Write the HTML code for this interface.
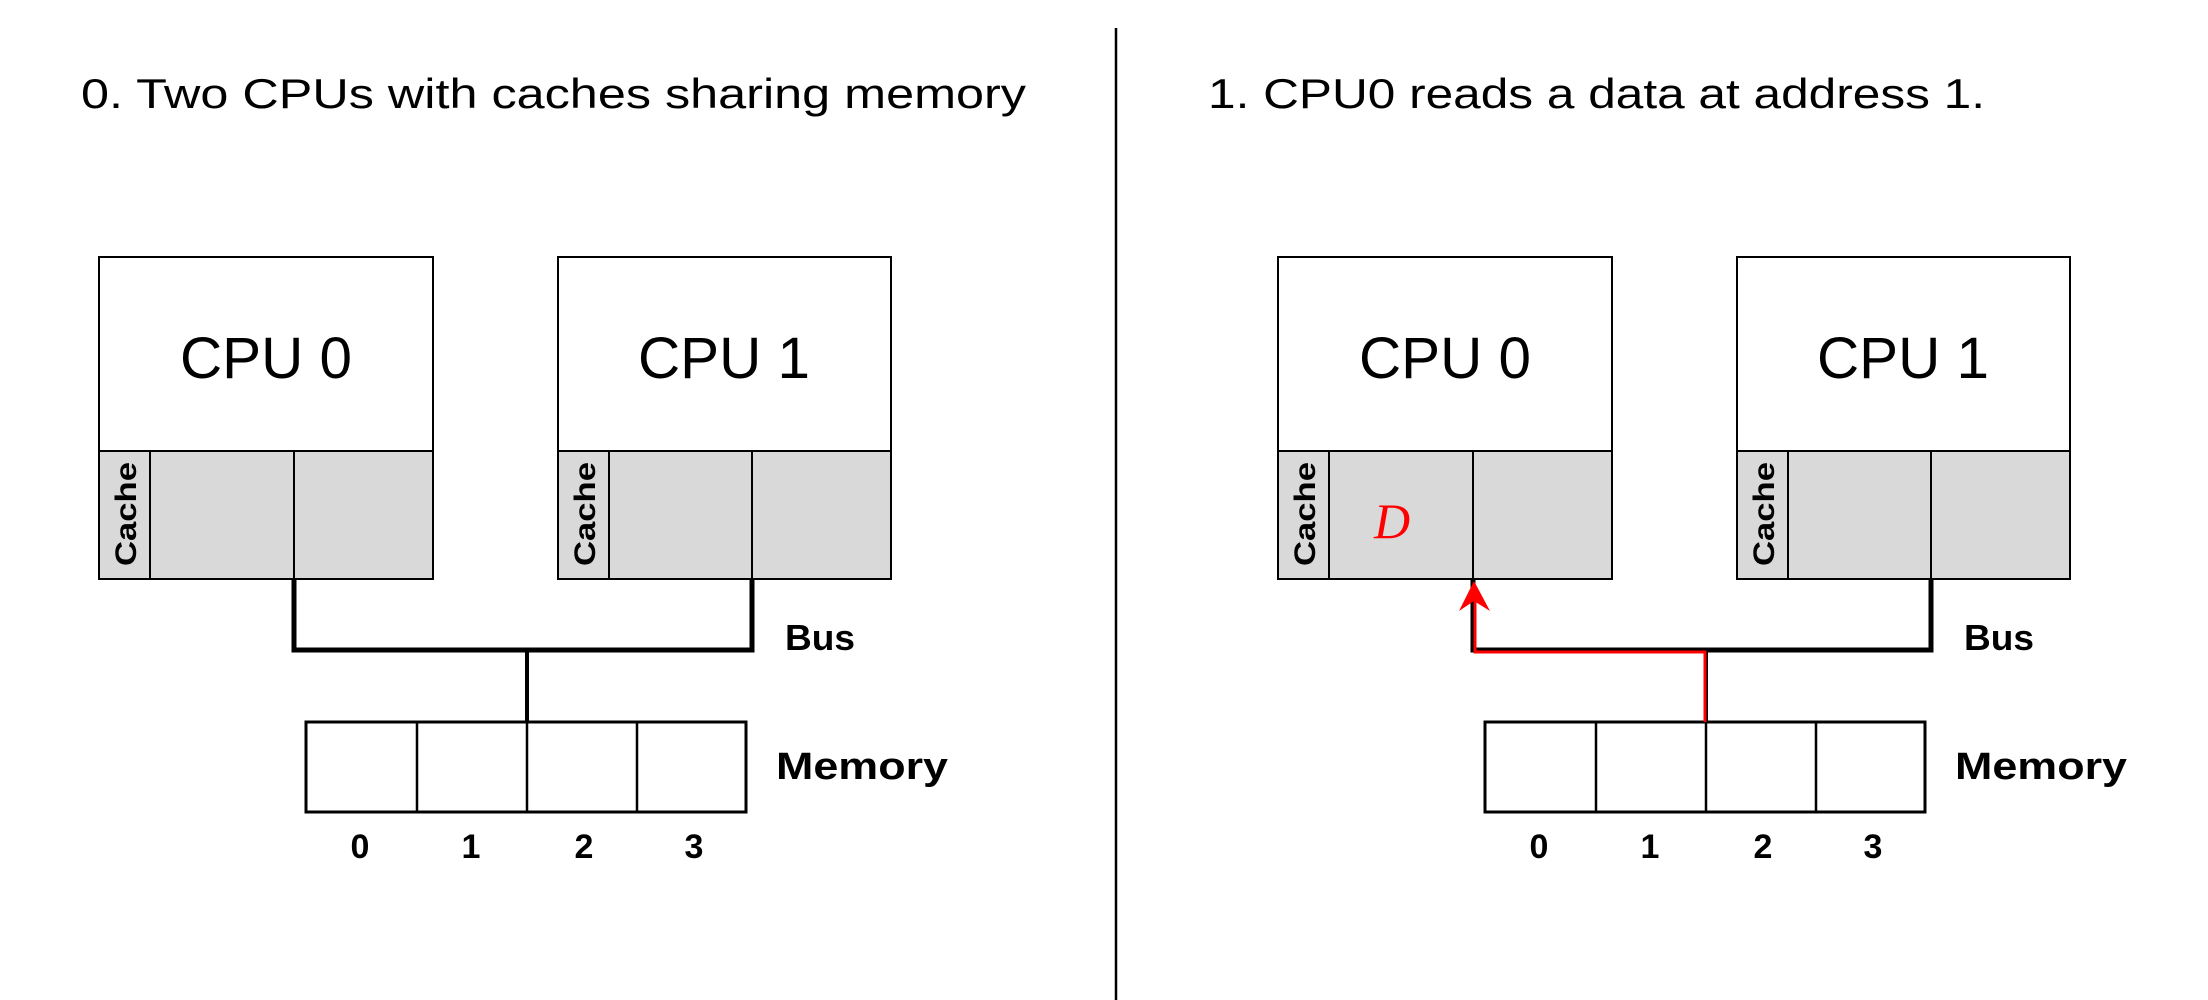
<!DOCTYPE html>
<html><head><meta charset="utf-8"><style>html,body{margin:0;padding:0;background:#fff;}svg{display:block}</style></head>
<body>
<svg width="2208" height="1000" viewBox="0 0 2208 1000" xmlns="http://www.w3.org/2000/svg" font-family="Liberation Sans, sans-serif">
<rect width="2208" height="1000" fill="#fff"/>
<line x1="1116" y1="28" x2="1116" y2="1000" stroke="#000" stroke-width="2.5"/>
<text x="81" y="108" font-size="42" textLength="945" lengthAdjust="spacingAndGlyphs">0. Two CPUs with caches sharing memory</text>
<text x="1208" y="108" font-size="42" textLength="777" lengthAdjust="spacingAndGlyphs">1. CPU0 reads a data at address 1.</text>

<g id="panel">
  <!-- CPU0 -->
  <rect x="99" y="257" width="334" height="194" fill="#fff" stroke="#000" stroke-width="2"/>
  <rect x="99" y="451" width="334" height="128" fill="#d9d9d9" stroke="#000" stroke-width="2"/>
  <line x1="150" y1="451" x2="150" y2="579" stroke="#000" stroke-width="2"/>
  <line x1="294" y1="451" x2="294" y2="579" stroke="#000" stroke-width="2"/>
  <text x="266" y="378" font-size="58" text-anchor="middle" textLength="172" lengthAdjust="spacingAndGlyphs">CPU 0</text>
  <text transform="translate(136,514) rotate(-90)" font-size="30" font-weight="bold" text-anchor="middle" textLength="104" lengthAdjust="spacingAndGlyphs">Cache</text>
  <!-- CPU1 -->
  <rect x="558" y="257" width="333" height="194" fill="#fff" stroke="#000" stroke-width="2"/>
  <rect x="558" y="451" width="333" height="128" fill="#d9d9d9" stroke="#000" stroke-width="2"/>
  <line x1="609" y1="451" x2="609" y2="579" stroke="#000" stroke-width="2"/>
  <line x1="752" y1="451" x2="752" y2="579" stroke="#000" stroke-width="2"/>
  <text x="724" y="378" font-size="58" text-anchor="middle" textLength="172" lengthAdjust="spacingAndGlyphs">CPU 1</text>
  <text transform="translate(595,514) rotate(-90)" font-size="30" font-weight="bold" text-anchor="middle" textLength="104" lengthAdjust="spacingAndGlyphs">Cache</text>
  <!-- Bus -->
  <polyline points="294,579 294,650 752,650 752,579" fill="none" stroke="#000" stroke-width="5"/>
  <line x1="527" y1="650" x2="527" y2="722" stroke="#000" stroke-width="4"/>
  <text x="785" y="650" font-size="36" font-weight="bold" textLength="70" lengthAdjust="spacingAndGlyphs">Bus</text>
  <!-- Memory -->
  <rect x="306" y="722" width="440" height="90" fill="#fff" stroke="#000" stroke-width="3"/>
  <line x1="417" y1="722" x2="417" y2="812" stroke="#000" stroke-width="2.5"/>
  <line x1="527" y1="722" x2="527" y2="812" stroke="#000" stroke-width="2.5"/>
  <line x1="637" y1="722" x2="637" y2="812" stroke="#000" stroke-width="2.5"/>
  <text x="776" y="779" font-size="38" font-weight="bold" textLength="172" lengthAdjust="spacingAndGlyphs">Memory</text>
  <g font-size="34" font-weight="bold" text-anchor="middle">
    <text x="360" y="858">0</text><text x="471" y="858">1</text><text x="584" y="858">2</text><text x="694" y="858">3</text>
  </g>
</g>
<use href="#panel" transform="translate(1179,0)"/>
<!-- red path -->
<text x="1392" y="538" font-family="Liberation Serif, serif" font-style="italic" font-size="50" fill="#f00" text-anchor="middle">D</text>
<polyline points="1705,722 1705,652 1475,652 1475,598" fill="none" stroke="#f00" stroke-width="3"/>
<polygon points="1474,581 1490,611 1474,601 1459,611" fill="#f00"/>
</svg>
</body></html>
